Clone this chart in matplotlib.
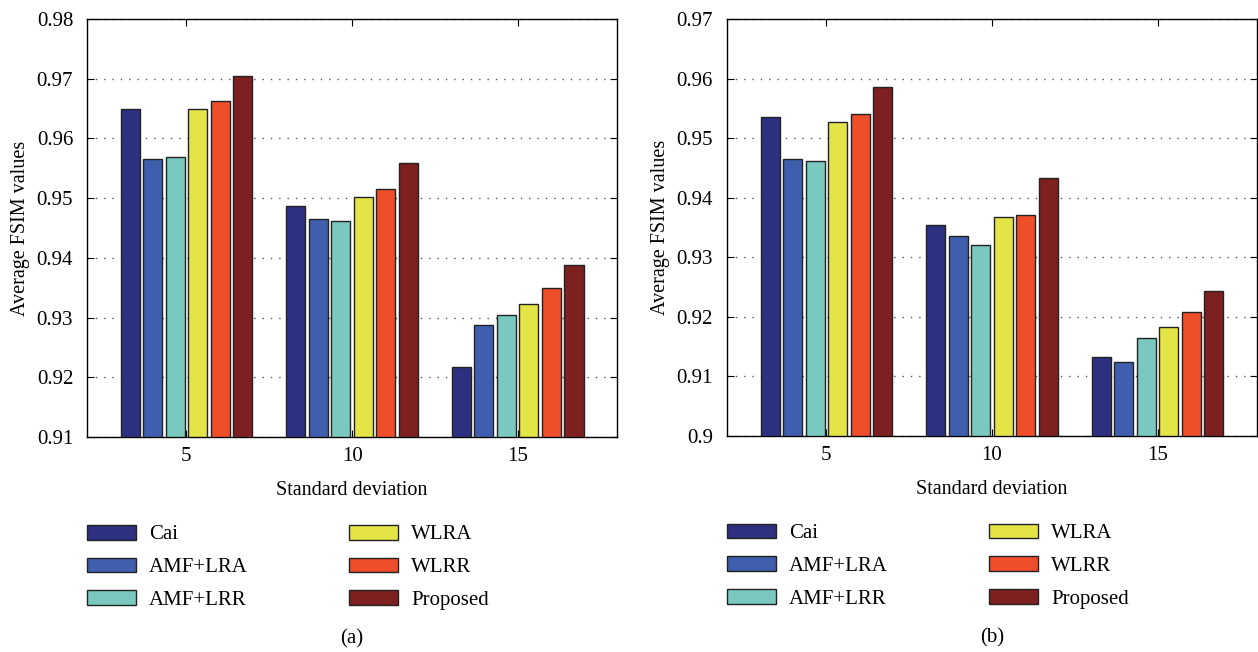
import matplotlib
matplotlib.use("Agg")
import matplotlib.pyplot as plt
import numpy as np

# Данні
methods = ["Cai", "AMF+LRA", "AMF+LRR", "WLRA", "WLRR", "Proposed"]
colors = ["#2d2f80", "#3f5fae", "#79c9bf", "#e3e448", "#ee4e2a", "#7e1f20"]
sigmas = ["5", "10", "15"]

# (a) значення FSIM для кожного методу при sigma = 5, 10, 15
fsim_a = {
    "Cai":      [0.9649, 0.9486, 0.9217],
    "AMF+LRA":  [0.9566, 0.9465, 0.9287],
    "AMF+LRR":  [0.9569, 0.9461, 0.9305],
    "WLRA":     [0.9649, 0.9502, 0.9322],
    "WLRR":     [0.9662, 0.9515, 0.9350],
    "Proposed": [0.9704, 0.9558, 0.9388],
}
# (b)
fsim_b = {
    "Cai":      [0.9535, 0.9355, 0.9132],
    "AMF+LRA":  [0.9465, 0.9335, 0.9124],
    "AMF+LRR":  [0.9461, 0.9321, 0.9165],
    "WLRA":     [0.9527, 0.9367, 0.9183],
    "WLRR":     [0.9540, 0.9371, 0.9208],
    "Proposed": [0.9585, 0.9433, 0.9243],
}
ylims_a = (0.91, 0.98)
ylims_b = (0.90, 0.97)

plt.rcParams['font.family'] = ['Liberation Serif', 'DejaVu Serif']

fig = plt.figure(figsize=(12.58, 6.52), dpi=100)
ax_a = fig.add_axes([0.0692, 0.3298, 0.4213, 0.6411])
ax_b = fig.add_axes([0.5779, 0.3313, 0.4213, 0.6396])

x = np.arange(1, len(sigmas) + 1)
pitch = 0.136
width = 0.115


def draw(ax, data, ylims, tag):
    for i, m in enumerate(methods):
        offs = (i - 2.5) * pitch
        ax.bar(x + offs, np.array(data[m]) - ylims[0], width, bottom=ylims[0],
               color=colors[i], edgecolor='#222222', linewidth=1.0, label=m, zorder=3)
    ax.set_xlim(0.4, 3.6)
    ax.set_ylim(*ylims)
    ax.set_xticks(x)
    ax.set_xticklabels(sigmas)
    yt = np.round(np.arange(ylims[0], ylims[1] + 0.001, 0.01), 2)
    ax.set_yticks(yt)
    ax.set_yticklabels([f"{v:g}" for v in yt])
    ax.tick_params(direction='in', top=True, right=True, labelsize=15, length=5)
    ax.tick_params(axis='y', pad=10)
    ax.tick_params(axis='x', pad=7)
    ax.yaxis.grid(True, linestyle=(0, (1, 5)), color='#555555', linewidth=1.0, zorder=0)
    ax.set_axisbelow(True)
    for s in ax.spines.values():
        s.set_linewidth(1.0)
    ax.set_xlabel("Standard deviation", fontsize=14.5, labelpad=11)
    ax.set_ylabel("Average FSIM values", fontsize=14.5, labelpad=5)
    ax.legend(loc='upper left', bbox_to_anchor=(-0.016, -0.19), ncol=2, frameon=False,
              fontsize=15, handlelength=2.36, handleheight=0.72, handletextpad=0.63,
              columnspacing=4.85, labelspacing=0.63, borderaxespad=0)
    ax.text(0.5, -0.483, tag, transform=ax.transAxes, ha='center', va='center', fontsize=15)


draw(ax_a, fsim_a, ylims_a, "(a)")
draw(ax_b, fsim_b, ylims_b, "(b)")

fig.savefig("out.png", dpi=100)
